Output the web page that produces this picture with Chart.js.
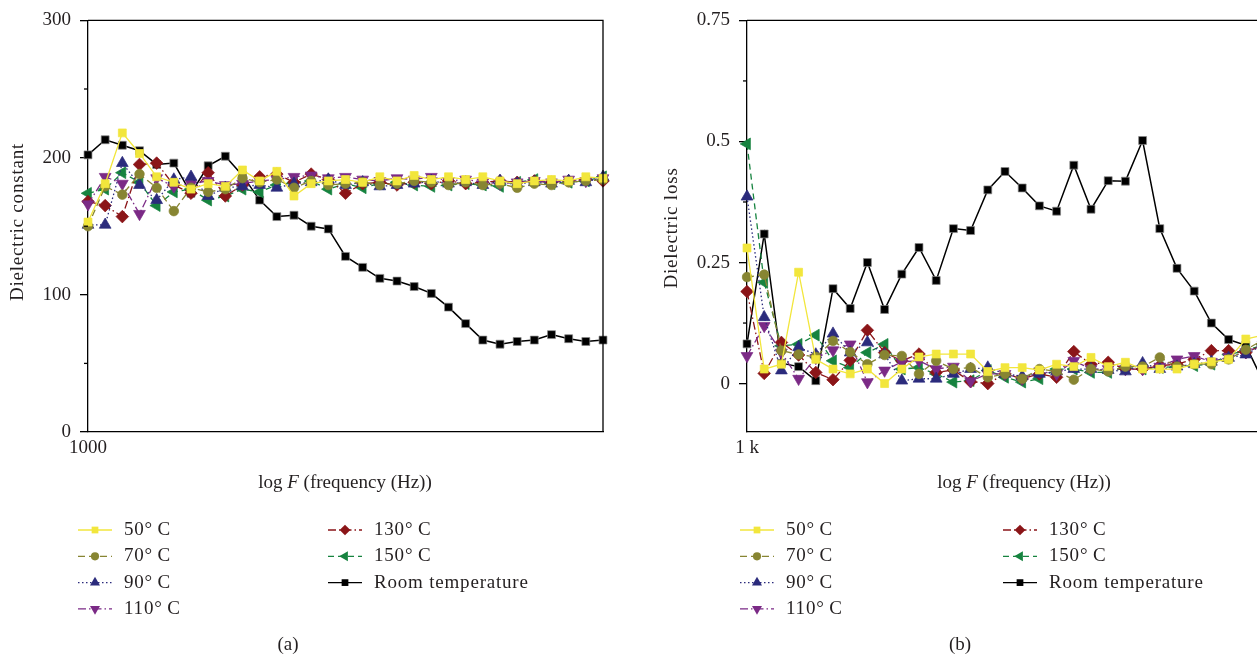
<!DOCTYPE html>
<html>
<head>
<meta charset="utf-8">
<script src="https://cdn.jsdelivr.net/npm/chart.js@4.4.0/dist/chart.umd.min.js"></script>
<style>
  html, body { margin: 0; padding: 0; background: #fff; overflow: hidden; width: 1257px; height: 655px; }
  #boxA { position: absolute; left: 0; top: 0; width: 640px; height: 655px; }
  #boxB { position: absolute; left: 640px; top: 0; width: 700px; height: 655px; }
</style>
</head>
<body>
<div id="boxA"><canvas id="chartA" width="640" height="655"></canvas></div>
<div id="boxB"><canvas id="chartB" width="700" height="655"></canvas></div>
<script>
// series names (legend order)
const seriesNames = ['50\u00b0\u2009C', '70\u00b0\u2009C', '90\u00b0\u2009C', '110\u00b0\u2009C', '130\u00b0\u2009C', '150\u00b0\u2009C', 'Room temperature'];

// x categories: log F steps, only the first one carries a label
const categoriesA = ['1000'].concat(new Array(30).fill(''));
const categoriesB = ['1 k'].concat(new Array(32).fill(''));

// (a) dielectric constant
const constT50  = [153, 181, 218, 203, 186, 182, 177, 181, 179, 191, 183, 190, 172, 181, 183, 184, 182, 186, 183, 187, 184, 186, 184, 186, 183, 181, 183, 184, 183, 186, 185];
const constT70  = [150, 179, 173, 188, 178, 161, 178, 175, 177, 185, 182, 184, 178, 183, 180, 181, 182, 180, 181, 183, 182, 180, 182, 180, 181, 178, 181, 180, 182, 183, 184];
const constT90  = [151, 151, 196, 180, 169, 184, 186, 172, 178, 179, 180, 178, 181, 182, 184, 180, 182, 179, 180, 181, 183, 181, 182, 180, 183, 181, 182, 181, 183, 182, 186];
const constT110 = [166, 186, 181, 159, 185, 179, 181, 183, 180, 181, 183, 184, 186, 187, 185, 186, 184, 183, 185, 184, 186, 183, 184, 182, 181, 182, 183, 182, 184, 183, 185];
const constT130 = [168, 165, 157, 195, 196, 180, 174, 189, 172, 180, 186, 188, 182, 188, 184, 174, 181, 182, 180, 182, 181, 183, 181, 182, 183, 182, 183, 182, 183, 184, 183];
const constT150 = [174, 177, 189, 182, 165, 175, 177, 169, 172, 177, 175, 180, 182, 183, 177, 181, 178, 181, 182, 180, 179, 180, 181, 180, 179, 182, 184, 181, 182, 183, 186];
const constRoom = [202, 213, 209, 205, 195, 196, 174, 194, 201, 187, 169, 157, 158, 150, 148, 128, 120, 112, 110, 106, 101, 91, 79, 67, 64, 66, 67, 71, 68, 66, 67];

// (b) dielectric loss
const lossT50  = [0.28, 0.03, 0.04, 0.23, 0.05, 0.03, 0.02, 0.03, 0.0, 0.03, 0.055, 0.061, 0.061, 0.061, 0.025, 0.033, 0.033, 0.028, 0.04, 0.035, 0.054, 0.035, 0.044, 0.03, 0.03, 0.03, 0.04, 0.045, 0.05, 0.092, 0.1];
const lossT70  = [0.22, 0.225, 0.068, 0.06, 0.055, 0.088, 0.065, 0.04, 0.059, 0.057, 0.02, 0.047, 0.03, 0.033, 0.013, 0.02, 0.01, 0.03, 0.025, 0.008, 0.03, 0.025, 0.035, 0.035, 0.054, 0.035, 0.04, 0.04, 0.05, 0.07, 0.09];
const lossT90  = [0.386, 0.137, 0.027, 0.075, 0.06, 0.103, 0.064, 0.085, 0.06, 0.006, 0.01, 0.01, 0.02, 0.03, 0.033, 0.02, 0.015, 0.02, 0.025, 0.03, 0.03, 0.028, 0.025, 0.042, 0.03, 0.035, 0.04, 0.045, 0.053, 0.06, 0.08];
const lossT110 = [0.057, 0.119, 0.064, 0.01, 0.053, 0.069, 0.081, 0.003, 0.027, 0.045, 0.047, 0.03, 0.035, 0.005, 0.02, 0.02, 0.01, 0.025, 0.02, 0.047, 0.03, 0.03, 0.03, 0.03, 0.035, 0.05, 0.057, 0.045, 0.055, 0.065, 0.08];
const lossT130 = [0.19, 0.021, 0.085, 0.059, 0.023, 0.008, 0.048, 0.11, 0.064, 0.047, 0.061, 0.023, 0.028, 0.004, 0.0, 0.02, 0.01, 0.02, 0.013, 0.066, 0.04, 0.044, 0.03, 0.03, 0.037, 0.04, 0.05, 0.068, 0.068, 0.064, 0.08];
const lossT150 = [0.495, 0.209, 0.078, 0.081, 0.1, 0.047, 0.033, 0.064, 0.081, 0.03, 0.033, 0.02, 0.003, 0.006, 0.027, 0.013, 0.003, 0.01, 0.03, 0.03, 0.023, 0.023, 0.033, 0.03, 0.033, 0.035, 0.037, 0.04, 0.06, 0.068, 0.08];
const lossRoom = [0.082, 0.309, 0.042, 0.035, 0.006, 0.196, 0.155, 0.25, 0.153, 0.226, 0.281, 0.213, 0.32, 0.316, 0.40, 0.438, 0.404, 0.367, 0.356, 0.451, 0.36, 0.419, 0.418, 0.502, 0.32, 0.238, 0.191, 0.125, 0.091, 0.079, 0.005];

const TEXT = '#231f20';
const FONT = "'Liberation Serif', 'DejaVu Serif', serif";
const WORD_SPACING = '0.8px';

// line / marker look of each series
const looks = [
  { color: '#f2e63c', dash: [],             point: 'rect',     rot: 0,   r: 5.6 },
  { color: '#878532', dash: [7, 4],         point: 'circle',   rot: 0,   r: 4.8 },
  { color: '#2b2b7c', dash: [1.5, 2.5],     point: 'triangle', rot: 0,   r: 6.8 },
  { color: '#7b2a86', dash: [8, 3, 1.5, 3], point: 'triangle', rot: 180, r: 6.8 },
  { color: '#8b1518', dash: [8, 3, 1.5, 3], point: 'rectRot',  rot: 0,   r: 6.3 },
  { color: '#16833f', dash: [6, 4],         point: 'triangle', rot: 270, r: 6.8 },
  { color: '#000000', dash: [],             point: 'rect',     rot: 0,   r: 5.6 }
];

function makeSets(lists) {
  return lists.map(function(vals, i) {
    var lk = looks[i];
    return {
      label: seriesNames[i],
      data: vals,
      borderColor: lk.color,
      backgroundColor: lk.color,
      borderWidth: i === 6 ? 1.5 : 1.3,
      borderDash: lk.dash,
      pointStyle: lk.point,
      pointRotation: lk.rot,
      pointRadius: lk.r,
      pointHoverRadius: lk.r,
      pointBackgroundColor: lk.color,
      pointBorderColor: i === 6 ? '#888' : lk.color,
      pointBorderWidth: 0.7,
      tension: 0
    };
  });
}

function spaced(ctx, on) {
  if ('letterSpacing' in ctx) ctx.letterSpacing = on ? WORD_SPACING : '0px';
}

// titles, frame, minor ticks, legend and caption
const paperDecor = {
  id: 'paperDecor',
  afterDraw: function(chart, args, o) {
    var ctx = chart.ctx, a = chart.chartArea, ys = chart.scales.y;
    ctx.save();
    // box round the plot
    ctx.strokeStyle = '#000';
    ctx.lineWidth = 1.3;
    ctx.beginPath();
    ctx.moveTo(a.left, a.top); ctx.lineTo(a.right, a.top); ctx.lineTo(a.right, a.bottom);
    ctx.stroke();
    // short minor ticks
    ys.ticks.forEach(function(t) {
      if (t.label === '') {
        var py = ys.getPixelForValue(t.value);
        ctx.beginPath(); ctx.moveTo(a.left - 4, py); ctx.lineTo(a.left, py); ctx.stroke();
      }
    });
    ctx.fillStyle = TEXT;
    ctx.font = '19px ' + FONT;
    ctx.textBaseline = 'middle';
    // y title
    ctx.save();
    spaced(ctx, true);
    ctx.translate(o.yTitle.x, o.yTitle.y);
    ctx.rotate(-Math.PI / 2);
    ctx.textAlign = 'center';
    ctx.fillText(o.yTitle.text, 0, 0);
    ctx.restore();
    // x title: log F (frequency (Hz))
    spaced(ctx, false);
    var p1 = 'log ', p2 = 'F', p3 = ' (frequency (Hz))';
    ctx.textAlign = 'left';
    var w1 = ctx.measureText(p1).width, w3 = ctx.measureText(p3).width;
    ctx.font = 'italic 19px ' + FONT;
    var w2 = ctx.measureText(p2).width;
    var sx = o.xTitle.x - (w1 + w2 + w3) / 2;
    ctx.font = '19px ' + FONT;
    ctx.fillText(p1, sx, o.xTitle.y);
    ctx.font = 'italic 19px ' + FONT;
    ctx.fillText(p2, sx + w1, o.xTitle.y);
    ctx.font = '19px ' + FONT;
    ctx.fillText(p3, sx + w1 + w2, o.xTitle.y);
    // legend
    chart.data.datasets.forEach(function(ds, i) {
      var col = i < 4 ? 0 : 1, row = i < 4 ? i : i - 4;
      var lx = o.legend.cols[col], ly = o.legend.top + row * o.legend.gap;
      var lk = looks[i];
      ctx.strokeStyle = lk.color; ctx.fillStyle = lk.color;
      ctx.lineWidth = 1.3;
      ctx.setLineDash(lk.dash);
      ctx.beginPath(); ctx.moveTo(lx, ly); ctx.lineTo(lx + 34, ly); ctx.stroke();
      ctx.setLineDash([]);
      Chart.helpers.drawPoint(ctx, { pointStyle: lk.point, rotation: lk.rot, radius: lk.r * 0.85, borderWidth: 0 }, lx + 17, ly);
      ctx.fillStyle = TEXT;
      ctx.textAlign = 'left';
      spaced(ctx, true);
      ctx.fillText(ds.label, lx + o.legend.textGap, ly);
      spaced(ctx, false);
    });
    // caption
    ctx.textAlign = 'center';
    ctx.fillText(o.caption.text, o.caption.x, o.caption.y);
    ctx.restore();
  }
};

function yAxis(min, max, step, major, width, fmt) {
  return {
    min: min, max: max,
    afterFit: function(s) { s.width = width; },
    border: { display: true, color: '#000', width: 1.3 },
    grid: {
      drawOnChartArea: false, tickLength: 8, lineWidth: 1.3,
      tickColor: function(c) { return c.tick && c.tick.label !== '' ? '#000' : 'rgba(0,0,0,0)'; }
    },
    ticks: {
      stepSize: step, includeBounds: false, padding: 9, color: TEXT,
      font: { family: FONT, size: 19 },
      callback: function(v) {
        var k = v / major;
        return Math.abs(k - Math.round(k)) < 1e-6 ? fmt(v) : '';
      }
    }
  };
}

function xAxis(height) {
  return {
    type: 'category',
    offset: false,
    afterFit: function(s) { s.height = height; },
    border: { display: true, color: '#000', width: 1.3 },
    grid: { drawOnChartArea: false, drawTicks: false },
    ticks: { autoSkip: false, maxRotation: 0, padding: 5, color: TEXT, font: { family: FONT, size: 19 } }
  };
}

new Chart(document.getElementById('chartA'), {
  type: 'line',
  data: {
    labels: categoriesA,
    datasets: makeSets([constT50, constT70, constT90, constT110, constT130, constT150, constRoom])
  },
  options: {
    responsive: false, animation: false, devicePixelRatio: 1,
    layout: { padding: { left: 0, right: 37, top: 17, bottom: 0 } },
    scales: {
      x: xAxis(223),
      y: yAxis(0, 300, 50, 100, 88, function(v) { return String(v); })
    },
    plugins: {
      legend: { display: false }, tooltip: { enabled: false },
      paperDecor: {
        yTitle: { text: 'Dielectric constant', x: 18, y: 222 },
        xTitle: { x: 345, y: 483 },
        legend: { cols: [78, 328], top: 530, gap: 26.3, textGap: 46 },
        caption: { text: '(a)', x: 288, y: 645 }
      }
    }
  },
  plugins: [paperDecor]
});

new Chart(document.getElementById('chartB'), {
  type: 'line',
  data: {
    labels: categoriesB,
    datasets: makeSets([lossT50, lossT70, lossT90, lossT110, lossT130, lossT150, lossRoom])
  },
  options: {
    responsive: false, animation: false, devicePixelRatio: 1,
    layout: { padding: { left: 0, right: 42.6, top: 17, bottom: 0 } },
    scales: {
      x: xAxis(223),
      y: yAxis(-0.1, 0.75, 0.125, 0.25, 107, function(v) { return String(Math.round(v * 100) / 100); })
    },
    plugins: {
      legend: { display: false }, tooltip: { enabled: false },
      paperDecor: {
        yTitle: { text: 'Dielectric loss', x: 32, y: 228 },
        xTitle: { x: 384, y: 483 },
        legend: { cols: [100, 363], top: 530, gap: 26.3, textGap: 46 },
        caption: { text: '(b)', x: 320, y: 645 }
      }
    }
  },
  plugins: [paperDecor]
});
</script>
</body>
</html>
